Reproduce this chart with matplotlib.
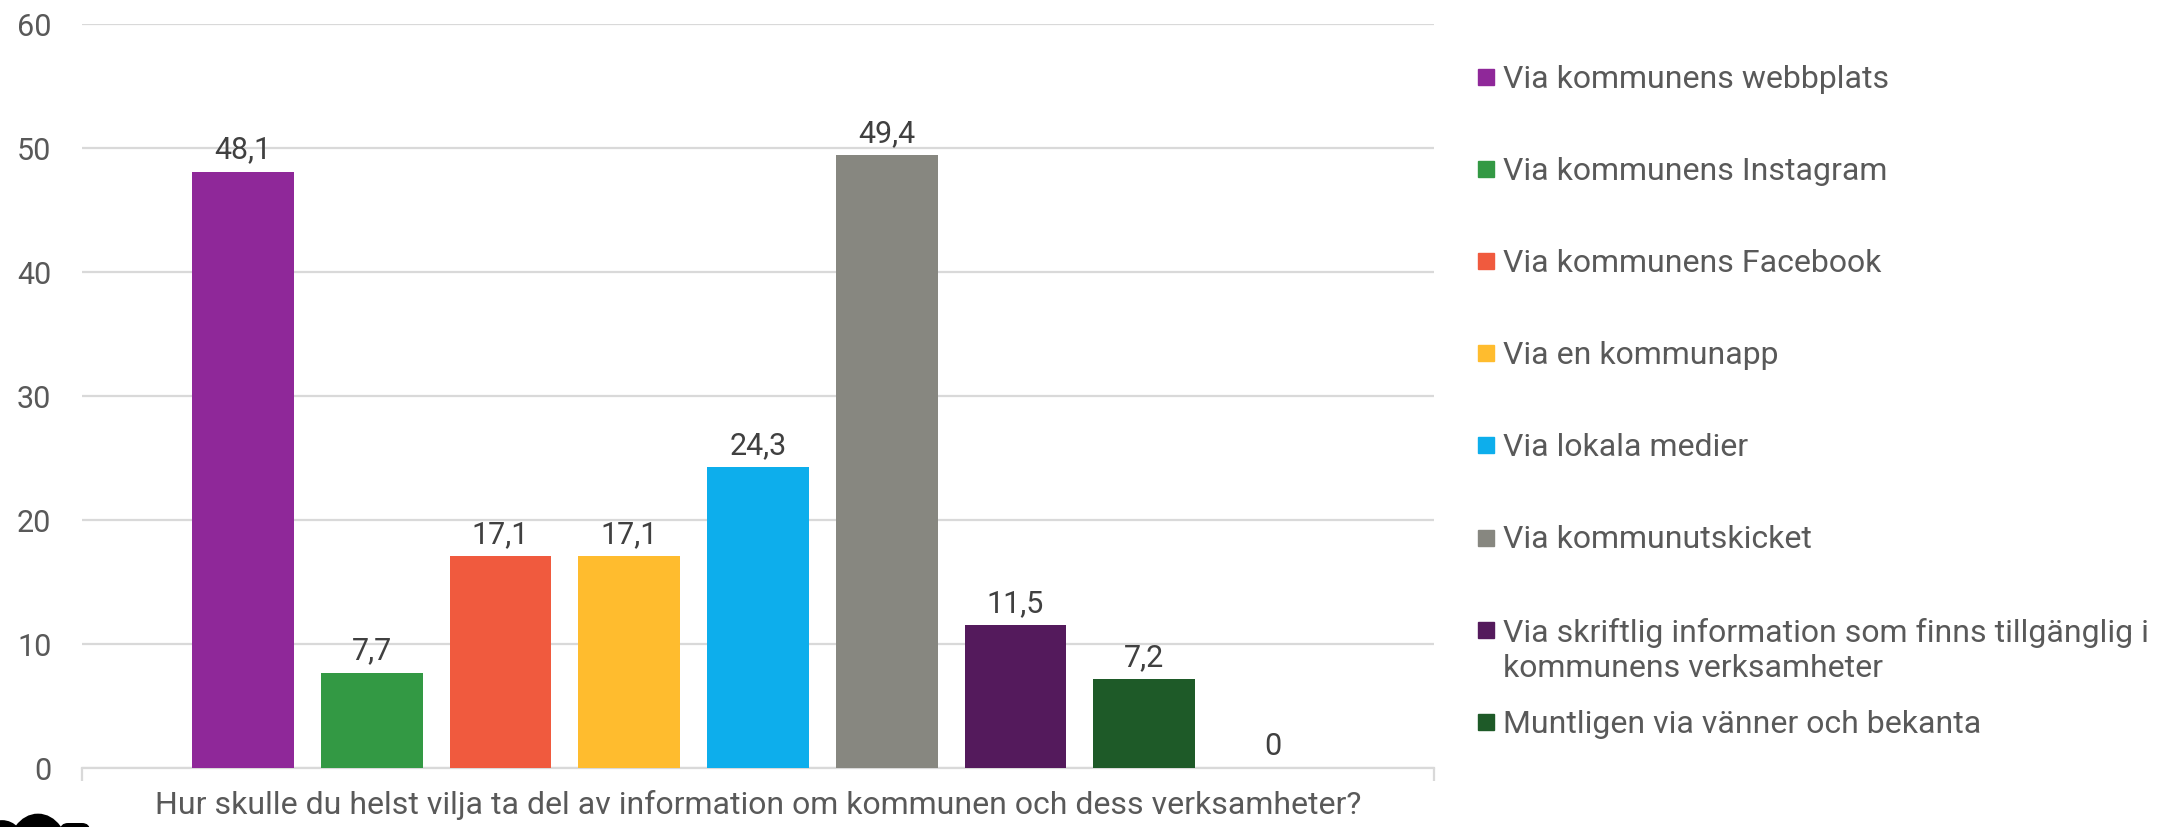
import matplotlib
matplotlib.use("Agg")
import matplotlib.pyplot as plt
from matplotlib.patches import Rectangle, Ellipse, FancyBboxPatch

plt.rcParams['font.family'] = ['Roboto', 'DejaVu Sans']

# Survey answers (percent)
categories = [
    "Via kommunens webbplats",
    "Via kommunens Instagram",
    "Via kommunens Facebook",
    "Via en kommunapp",
    "Via lokala medier",
    "Via kommunutskicket",
    "Via skriftlig information som finns tillgänglig i\nkommunens verksamheter",
    "Muntligen via vänner och bekanta",
    "Annat",
]
values = [48.1, 7.7, 17.1, 17.1, 24.3, 49.4, 11.5, 7.2, 0.0]
colors = ["#8F2899", "#339944", "#F05A3E", "#FFBC2E", "#0DAEEC",
          "#878780", "#541A5C", "#1E5A28", "#4A7FC1"]
legend_count = 8
y_ticks = [0, 10, 20, 30, 40, 50, 60]
question = "Hur skulle du helst vilja ta del av information om kommunen och dess verksamheter?"

W, H, DPI = 2164, 827, 100
fig = plt.figure(figsize=(W / DPI, H / DPI), dpi=DPI)
ax = fig.add_axes([82 / W, 59 / H, (1434 - 82) / W, (768 - 24) / H])

text_col = "#595959"
grid_col = "#D9D9D9"

x = list(range(len(values)))
bars = ax.bar(x, values, width=0.79, color=colors, zorder=3)

labels = [f"{v:g}".replace(".", ",") for v in values]
ax.bar_label(bars, labels=labels, padding=5, fontsize=22, color="#404040")

ax.set_ylim(0, 60)
ax.set_yticks(y_ticks)
ax.set_yticklabels([str(t) for t in y_ticks], fontsize=22, color=text_col)
ax.tick_params(axis="y", length=0, pad=22)
ax.yaxis.grid(True, color=grid_col, linewidth=1.6, zorder=0)

xmin, xmax = -1.251, len(values) - 1 + 1.251
ax.set_xlim(xmin, xmax)
ax.set_xticks([xmin, xmax])
ax.set_xticklabels(["", ""])
ax.tick_params(axis="x", length=9, width=1.6, color=grid_col, direction="out")

for side in ("left", "right", "top"):
    ax.spines[side].set_visible(False)
ax.spines["bottom"].set_color(grid_col)
ax.spines["bottom"].set_linewidth(1.6)
ax.set_axisbelow(True)

ax.text(0.5, -37 / (768 - 24), question, transform=ax.transAxes,
        ha="center", va="center", fontsize=23, color=text_col)

# Legend drawn by hand: square swatch + label, fixed row pitch
row0, pitch = 77, 92.1
sw = 16
for i in range(legend_count):
    yc = row0 + i * pitch
    fig.patches.append(Rectangle((1478 / W, (H - yc - sw / 2) / H), sw / W, sw / H,
                                 transform=fig.transFigure, color=colors[i]))
    fig.text(1503 / W, (H - yc + 12) / H, categories[i], ha="left", va="top",
             fontsize=23, color=text_col, linespacing=1.28)

# Logo fragment at the lower left edge
fig.patches.append(Ellipse((2, -18), 36, 40, transform=None, fill=False,
                           edgecolor="black", linewidth=7))
fig.patches.append(Ellipse((38, -25), 44, 60, transform=None, fill=False,
                           edgecolor="black", linewidth=12))
fig.patches.append(FancyBboxPatch((60, -40), 30, 44, boxstyle="round,pad=0,rounding_size=8",
                                  transform=None, facecolor="black", edgecolor="none"))

fig.savefig("out.png", dpi=DPI, facecolor="white")
